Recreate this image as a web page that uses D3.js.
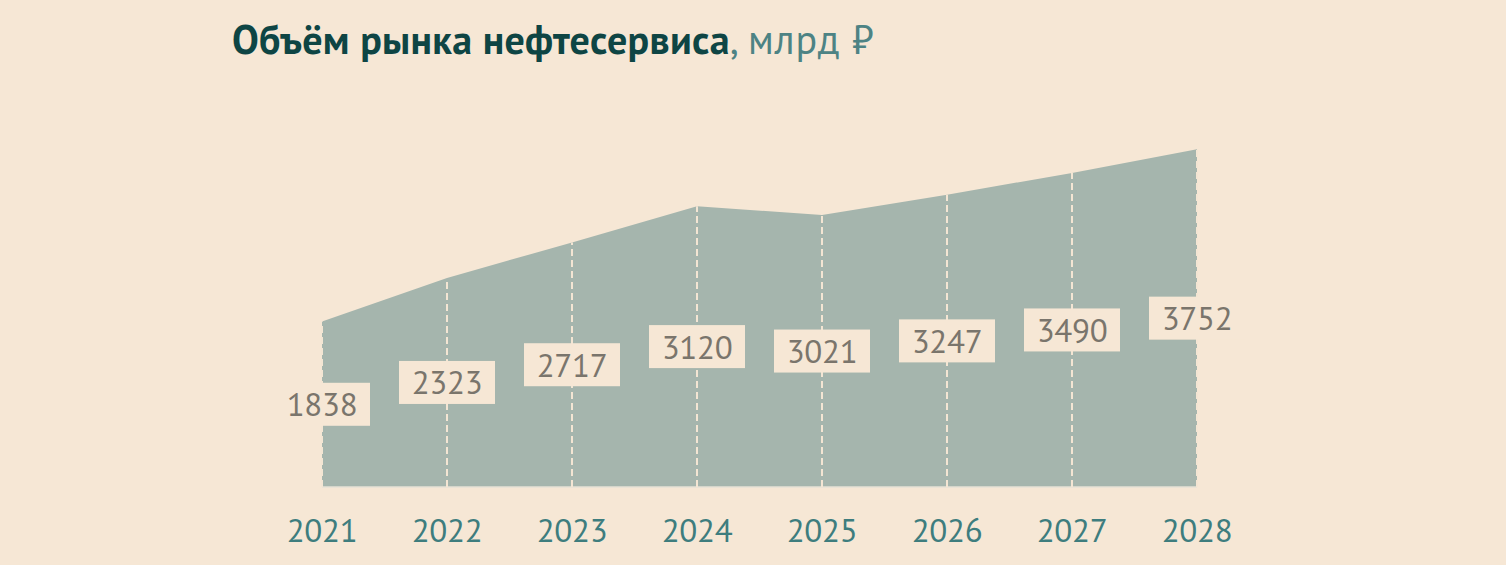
<!DOCTYPE html>
<html>
<head>
<meta charset="utf-8">
<script src="https://cdn.jsdelivr.net/npm/d3@7"></script>
<style>
  body { margin: 0; background: #f6e7d5; }
  svg { display: block; }
</style>
</head>
<body>
<div id="chart"></div>
<script>
const w = 1506, h = 565;

const years = ['2021', '2022', '2023', '2024', '2025', '2026', '2027', '2028'];
const volumes = [1838, 2323, 2717, 3120, 3021, 3247, 3490, 3752];

const dataset = years.map((y, i) => ({year: y, value: volumes[i]}));

const svg = d3.select('#chart')
  .append('svg')
  .attr('width', w)
  .attr('height', h);

const xScale = d3.scalePoint()
  .domain(years)
  .range([322, 1197]);

const yScale = d3.scaleLinear()
  .domain([0, 3752])
  .range([487, 149.3]);

// title
const title = svg.append('text')
  .attr('x', 232)
  .attr('y', 54)
  .style('font-family', '"PT Sans", "Noto Sans", sans-serif')
  .style('font-size', '40px');
title.append('tspan')
  .attr('font-weight', 'bold')
  .attr('fill', '#0e4544')
  .style('letter-spacing', '0.3px')
  .text('Объём рынка нефтесервиса');
title.append('tspan')
  .attr('fill', '#4d8384')
  .style('letter-spacing', '0.8px')
  .text(', млрд ₽');

// area
const area = d3.area()
  .x(d => xScale(d.year))
  .y0(yScale(0))
  .y1(d => yScale(d.value));

svg.append('path')
  .datum(dataset)
  .attr('fill', '#a5b5ad')
  .attr('d', area);

// baseline
svg.append('line')
  .attr('x1', xScale(years[0]))
  .attr('x2', xScale(years[years.length - 1]))
  .attr('y1', yScale(0))
  .attr('y2', yScale(0))
  .attr('stroke', '#e6e2d6')
  .attr('stroke-width', 1.5);

// dashed drop lines
svg.selectAll('.drop')
  .data(dataset)
  .enter()
  .append('line')
  .attr('class', 'drop')
  .attr('x1', d => xScale(d.year))
  .attr('x2', d => xScale(d.year))
  .attr('y1', yScale(0))
  .attr('y2', d => yScale(d.value))
  .attr('stroke', '#f3e5d3')
  .attr('stroke-width', 2)
  .attr('stroke-dasharray', '7,4');

// value boxes at mid height
const boxW = 96, boxH = 43;
const labels = svg.selectAll('.val')
  .data(dataset)
  .enter()
  .append('g')
  .attr('class', 'val')
  .attr('transform', d => `translate(${xScale(d.year)}, ${yScale(d.value / 2)})`);

labels.append('rect')
  .attr('x', -boxW / 2)
  .attr('y', -boxH / 2)
  .attr('width', boxW)
  .attr('height', boxH)
  .attr('fill', '#f6e7d5');

labels.append('text')
  .attr('text-anchor', 'middle')
  .attr('y', 12)
  .attr('fill', '#7a756c')
  .style('font-family', '"PT Sans", "Noto Sans", sans-serif')
  .style('font-size', '33px')
  .style('letter-spacing', '-0.3px')
  .text(d => d.value);

// year axis labels
svg.selectAll('.yr')
  .data(years)
  .enter()
  .append('text')
  .attr('class', 'yr')
  .attr('x', d => xScale(d))
  .attr('y', 542)
  .attr('text-anchor', 'middle')
  .attr('fill', '#3e7d7e')
  .style('font-family', '"PT Sans", "Noto Sans", sans-serif')
  .style('font-size', '33px')
  .style('letter-spacing', '-0.3px')
  .text(d => d);
</script>
</body>
</html>
